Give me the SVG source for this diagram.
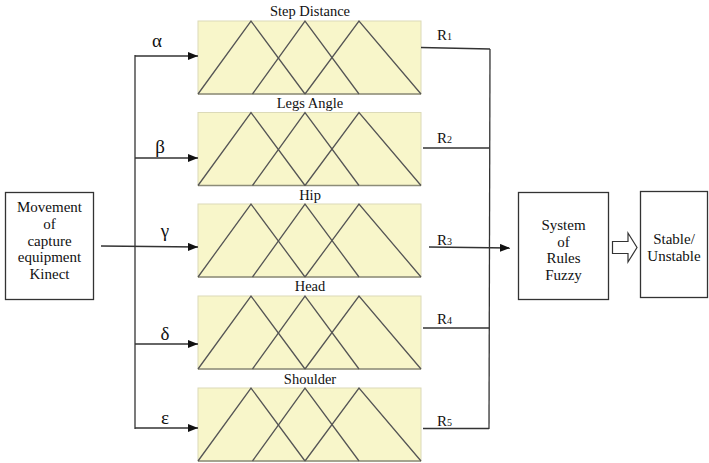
<svg xmlns="http://www.w3.org/2000/svg" width="709" height="463" viewBox="0 0 709 463">
<defs>
<marker id="ah" markerWidth="10" markerHeight="8" refX="10" refY="4" orient="auto" markerUnits="userSpaceOnUse">
<path d="M0,0 L10,4 L0,8 Z" fill="#111"/>
</marker>
<g id="mf">
<rect x="0" y="0" width="223" height="73" fill="#f8f6ca" stroke="#dcdab8" stroke-width="1"/>
<line x1="0" y1="73" x2="223" y2="73" stroke="#8c8c78" stroke-width="1.5"/>
<polyline points="0,73 53,0 107,73" fill="none" stroke="#555" stroke-width="1.3"/>
<polyline points="54.5,73 107,0 161,73" fill="none" stroke="#555" stroke-width="1.3"/>
<polyline points="107,73 161,0 223,73" fill="none" stroke="#555" stroke-width="1.3"/>
</g>
</defs>
<style>
text{font-family:'Liberation Serif','DejaVu Serif',serif;fill:#111}
.t{font-size:15px;text-anchor:middle}
.h{font-size:14.5px;text-anchor:middle}
.g{font-size:19px;text-anchor:middle}
.r{font-size:15px}
.rs{font-size:10px}
.box{fill:#fff;stroke:#333;stroke-width:1.3}
.ln{fill:none;stroke:#333;stroke-width:1.3}
</style>
<rect width="709" height="463" fill="#fff"/>

<g id="input" font-family="Liberation Serif, DejaVu Serif, serif">
<rect class="box" x="5.5" y="192.5" width="88" height="107"/>
<text class="t" x="49.5" y="212">Movement</text>
<text class="t" x="49.5" y="229">of</text>
<text class="t" x="49.5" y="246">capture</text>
<text class="t" x="49.5" y="262">equipment</text>
<text class="t" x="49.5" y="279">Kinect</text>
</g>

<g id="panel-step" font-family="Liberation Serif, DejaVu Serif, serif">
<use href="#mf" x="198" y="21"/>
<text class="h" x="310" y="16">Step Distance</text>
</g>
<g id="panel-legs" font-family="Liberation Serif, DejaVu Serif, serif">
<use href="#mf" x="198" y="112.5"/>
<text class="h" x="310" y="108">Legs Angle</text>
</g>
<g id="panel-hip" font-family="Liberation Serif, DejaVu Serif, serif">
<use href="#mf" x="198" y="204"/>
<text class="h" x="310" y="200">Hip</text>
</g>
<g id="panel-head" font-family="Liberation Serif, DejaVu Serif, serif">
<use href="#mf" x="198" y="296"/>
<text class="h" x="310" y="291">Head</text>
</g>
<g id="panel-shoulder" font-family="Liberation Serif, DejaVu Serif, serif">
<use href="#mf" x="198" y="388"/>
<text class="h" x="310" y="384">Shoulder</text>
</g>

<g id="system" font-family="Liberation Serif, DejaVu Serif, serif">
<rect class="box" x="518.5" y="192.5" width="90" height="107"/>
<text class="t" x="563.5" y="230">System</text>
<text class="t" x="563.5" y="247">of</text>
<text class="t" x="563.5" y="263">Rules</text>
<text class="t" x="563.5" y="280">Fuzzy</text>
</g>

<g id="output" font-family="Liberation Serif, DejaVu Serif, serif">
<rect class="box" x="640.5" y="191.5" width="67" height="106"/>
<text class="t" x="674" y="244">Stable/</text>
<text class="t" x="674" y="261">Unstable</text>
</g>

<g id="connectors" font-family="Liberation Serif, DejaVu Serif, serif">
<line class="ln" x1="135" y1="55" x2="135" y2="429"/>
<line class="ln" x1="135" y1="56" x2="198" y2="56" marker-end="url(#ah)"/>
<line class="ln" x1="135" y1="158" x2="198" y2="158" marker-end="url(#ah)"/>
<line class="ln" x1="101" y1="246" x2="198" y2="247" marker-end="url(#ah)"/>
<line class="ln" x1="135" y1="344" x2="198" y2="344" marker-end="url(#ah)"/>
<line class="ln" x1="135" y1="428" x2="198" y2="428" marker-end="url(#ah)"/>
<text class="g" x="157" y="47">α</text>
<text class="g" x="160" y="153">β</text>
<text class="g" x="165" y="237">γ</text>
<text class="g" x="165" y="340">δ</text>
<text class="g" x="165" y="424">ε</text>

<line class="ln" x1="490" y1="49" x2="489" y2="429"/>
<line class="ln" x1="421" y1="47.5" x2="490" y2="49"/>
<line class="ln" x1="423" y1="148" x2="489" y2="148"/>
<line class="ln" x1="429" y1="247" x2="510" y2="248" marker-end="url(#ah)"/>
<line class="ln" x1="423" y1="328" x2="489" y2="328"/>
<line class="ln" x1="423" y1="428.5" x2="489" y2="428.5"/>
<text class="r" x="437" y="40">R<tspan class="rs">1</tspan></text>
<text class="r" x="437" y="143">R<tspan class="rs">2</tspan></text>
<text class="r" x="437" y="245">R<tspan class="rs">3</tspan></text>
<text class="r" x="437" y="324">R<tspan class="rs">4</tspan></text>
<text class="r" x="437" y="426">R<tspan class="rs">5</tspan></text>

<polygon points="612.5,241.5 628,241.5 628,233 637,247.5 628,262 628,253.5 612.5,253.5" fill="#fff" stroke="#333" stroke-width="1.2"/>
</g>
</svg>
